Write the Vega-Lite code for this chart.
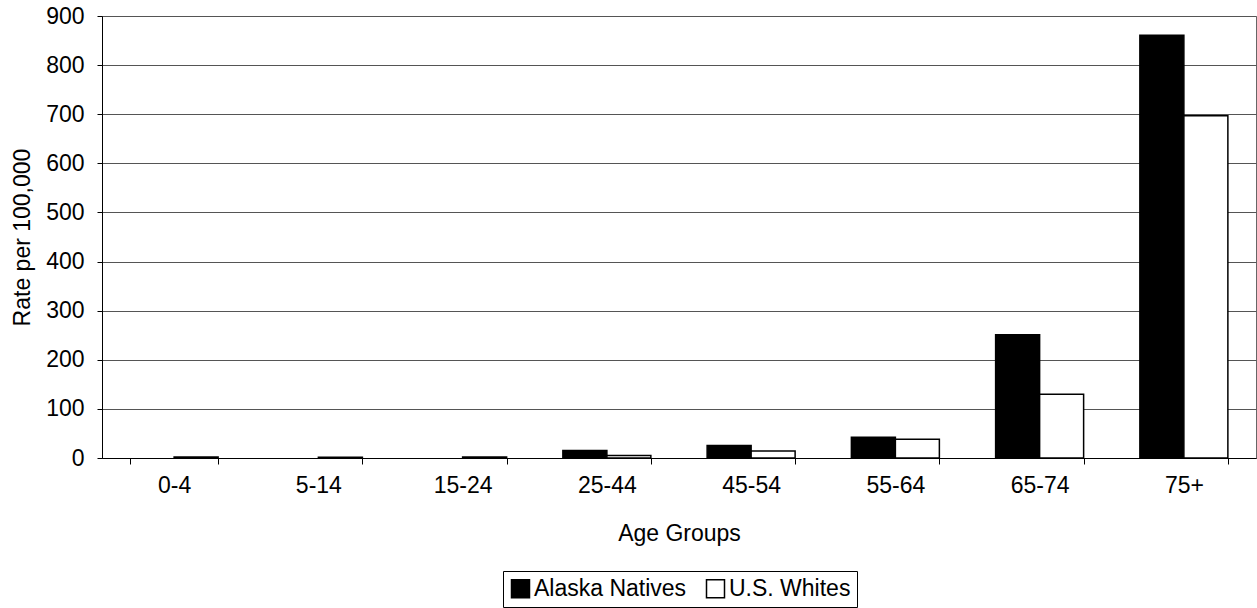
{
  "$schema": "https://vega.github.io/schema/vega-lite/v6.json",
  "width": 1154,
  "height": 442,
  "autosize": {"type": "none"},
  "padding": {"left": 102, "top": 16, "right": 1, "bottom": 150},
  "background": "white",
  "config": {
    "font": "Liberation Sans",
    "view": {"stroke": "#666666", "strokeWidth": 1}
  },
  "data": {
    "values": [
      {"age": "0-4", "series": "U.S. Whites", "rate": 2},
      {"age": "5-14", "series": "U.S. Whites", "rate": 1.5},
      {"age": "15-24", "series": "U.S. Whites", "rate": 2},
      {"age": "25-44", "series": "Alaska Natives", "rate": 15.5},
      {"age": "25-44", "series": "U.S. Whites", "rate": 5},
      {"age": "45-54", "series": "Alaska Natives", "rate": 25.5},
      {"age": "45-54", "series": "U.S. Whites", "rate": 14},
      {"age": "55-64", "series": "Alaska Natives", "rate": 42.5},
      {"age": "55-64", "series": "U.S. Whites", "rate": 38},
      {"age": "65-74", "series": "Alaska Natives", "rate": 251},
      {"age": "65-74", "series": "U.S. Whites", "rate": 130},
      {"age": "75+", "series": "Alaska Natives", "rate": 861},
      {"age": "75+", "series": "U.S. Whites", "rate": 697}
    ]
  },
  "mark": {"type": "bar", "stroke": "black", "strokeWidth": 1.5},
  "encoding": {
    "x": {
      "field": "age",
      "type": "nominal",
      "sort": ["0-4", "5-14", "15-24", "25-44", "45-54", "55-64", "65-74", "75+"],
      "scale": {"paddingInner": 0.39, "paddingOuter": 0.195},
      "axis": {
        "title": "Age Groups",
        "labelAngle": 0,
        "tickBand": "extent",
        "labelFontSize": 23,
        "titleFontSize": 23,
        "titleFontWeight": "normal",
        "labelColor": "black",
        "titleColor": "black",
        "domainColor": "black",
        "tickColor": "black",
        "tickSize": 6,
        "labelPadding": 10,
        "titlePadding": 25
      }
    },
    "xOffset": {"field": "series", "sort": ["Alaska Natives", "U.S. Whites"]},
    "y": {
      "field": "rate",
      "type": "quantitative",
      "scale": {"domain": [0, 900], "nice": false},
      "axis": {
        "values": [0, 100, 200, 300, 400, 500, 600, 700, 800, 900],
        "title": "Rate per 100,000",
        "grid": true,
        "gridColor": "#555555",
        "gridOpacity": 1,
        "labelFontSize": 23,
        "titleFontSize": 23,
        "titleFontWeight": "normal",
        "labelColor": "black",
        "titleColor": "black",
        "domainColor": "black",
        "tickColor": "black",
        "tickSize": 5,
        "labelPadding": 13,
        "titleX": -80,
        "titleY": 221,
        "titleAlign": "center",
        "titleBaseline": "middle",
        "titleAngle": 270
      }
    },
    "color": {
      "field": "series",
      "type": "nominal",
      "sort": ["Alaska Natives", "U.S. Whites"],
      "scale": {"range": ["black", "white"]},
      "legend": {
        "title": null,
        "orient": "none",
        "legendX": 401,
        "legendY": 555,
        "direction": "horizontal",
        "strokeColor": "black",
        "padding": 6,
        "symbolType": "square",
        "symbolSize": 324,
        "symbolStrokeColor": "black",
        "symbolStrokeWidth": 1.5,
        "symbolOpacity": 1,
        "labelFontSize": 23,
        "labelColor": "black",
        "labelOffset": 2,
        "columnPadding": 16
      }
    }
  }
}
